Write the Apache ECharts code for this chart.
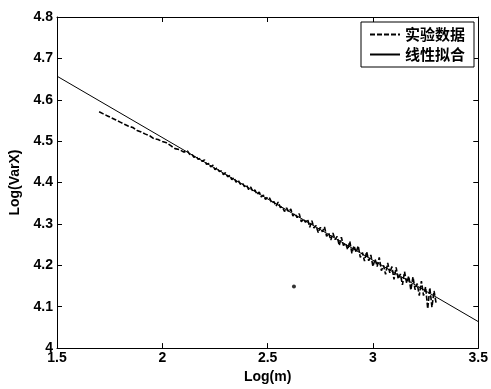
<!DOCTYPE html>
<html><head><meta charset="utf-8">
<script src="https://cdn.jsdelivr.net/npm/echarts@6/dist/echarts.min.js"></script>
<style>html,body{margin:0;padding:0;background:#fff}#c{width:491px;height:389px}</style>
</head><body><div id="c"></div>
<script>
const xTicks = [1.5, 2, 2.5, 3, 3.5];
const yTicks = [4, 4.1, 4.2, 4.3, 4.4, 4.5, 4.6, 4.7, 4.8];
const seriesNames = ['实验数据', '线性拟合'];
const expX = [
1.70,1.72,1.74,1.76,1.78,1.80,1.82,1.84,1.86,1.88,1.90,1.92,1.94,1.96,1.98,2.00,2.02,2.04,2.06,2.08,2.10,
2.11,2.12,2.13,2.14,2.15,2.16,2.17,2.18,2.19,2.20,2.21,2.22,2.23,2.24,2.25,2.26,2.27,2.28,2.29,2.30,
2.31,2.32,2.33,2.34,2.35,2.36,2.37,2.38,2.39,2.40,2.41,2.42,2.43,2.44,2.45,2.46,2.47,2.48,2.49,2.50,
2.51,2.52,2.53,2.54,2.55,2.56,2.57,2.58,2.59,2.60,2.61,2.62,2.63,2.64,2.65,2.66,2.67,2.68,2.69,2.70,
2.71,2.72,2.73,2.74,2.75,2.76,2.77,2.78,2.79,2.80,2.81,2.82,2.83,2.84,2.85,2.86,2.87,2.88,2.89,2.90,
2.91,2.92,2.93,2.94,2.95,2.96,2.97,2.98,2.99,3.00,3.01,3.02,3.03,3.04,3.05,3.06,3.07,3.08,3.09,3.10,
3.11,3.12,3.13,3.14,3.15,3.16,3.17,3.18,3.19,3.20,3.21,3.22,3.23,3.24,3.25,3.26,3.27,3.28,3.29,3.30
];
const expY = [
4.571,4.566,4.561,4.556,4.551,4.546,4.541,4.536,4.533,4.526,4.522,4.517,4.513,4.506,4.504,4.499,4.496,4.489,4.482,4.480,4.474,
4.474,4.476,4.468,4.469,4.461,4.464,4.456,4.458,4.451,4.455,4.444,4.446,4.438,4.442,4.431,4.436,4.427,4.428,4.419,4.424,
4.414,4.417,4.407,4.412,4.401,4.406,4.396,4.399,4.390,4.394,4.383,4.389,4.378,4.382,4.371,4.377,4.365,4.370,4.359,4.365,
4.362,4.350,4.354,4.343,4.353,4.340,4.341,4.330,4.339,4.329,4.336,4.319,4.325,4.315,4.325,4.305,4.312,4.304,4.311,4.292,
4.308,4.290,4.296,4.279,4.292,4.281,4.293,4.270,4.278,4.261,4.278,4.262,4.270,4.248,4.268,4.248,4.253,4.238,4.258,4.229,
4.247,4.231,4.247,4.219,4.231,4.210,4.233,4.211,4.225,4.197,4.215,4.197,4.219,4.187,4.200,4.178,4.206,4.182,4.197,4.166,
4.195,4.167,4.179,4.153,4.185,4.157,4.174,4.140,4.172,4.141,4.156,4.127,4.162,4.127,4.148,4.095,4.146,4.099,4.138,4.108
];
const outlierX = [2.625];
const outlierY = [4.149];
const fitX = [1.5, 3.5];
const fitY = [4.657, 4.064];

const zip = (a, b) => a.map((v, i) => [v, b[i]]);
const font = 'Liberation Sans, Arial, Noto Sans CJK SC, sans-serif';
const lblStyle = { color: '#000', fontSize: 14, fontWeight: 'bold', fontFamily: font };
const axLine = { show: true, lineStyle: { color: '#000', width: 1 } };

const chart = echarts.init(document.getElementById('c'), null, { renderer: 'canvas' });
chart.setOption({
  animation: false,
  backgroundColor: '#fff',
  textStyle: { fontFamily: font, color: '#000' },
  grid: { left: 57, right: 11, top: 17, bottom: 37, containLabel: false },
  legend: {
    data: seriesNames,
    orient: 'vertical',
    left: 361, top: 22,
    itemWidth: 30, itemHeight: 10, itemGap: 5,
    padding: [5, 9, 5, 8],
    backgroundColor: '#fff',
    borderColor: '#000', borderWidth: 1,
    itemStyle: { opacity: 0 },
    textStyle: { color: '#000', fontSize: 15, fontWeight: 'bold', fontFamily: 'Noto Sans CJK SC, sans-serif' }
  },
  xAxis: [{
    type: 'value', min: 1.5, max: 3.5, interval: 0.5,
    name: 'Log(m)', nameLocation: 'middle', nameGap: 21,
    nameTextStyle: lblStyle,
    axisLine: axLine,
    axisTick: { show: true, inside: true, length: 5, lineStyle: { color: '#000' }, customValues: xTicks },
    axisLabel: Object.assign({ margin: 3, customValues: xTicks, formatter: v => String(v) }, lblStyle),
    splitLine: { show: false }
  }, {
    type: 'value', position: 'top', min: 1.5, max: 3.5, interval: 0.5,
    axisLine: axLine,
    axisTick: { show: true, inside: true, length: 5, lineStyle: { color: '#000' } },
    axisLabel: { show: false }, splitLine: { show: false }
  }],
  yAxis: [{
    type: 'value', min: 4, max: 4.8, interval: 0.1,
    name: 'Log(VarX)', nameLocation: 'middle', nameGap: 30,
    nameTextStyle: lblStyle,
    axisLine: axLine,
    axisTick: { show: true, inside: true, length: 5, lineStyle: { color: '#000' }, customValues: yTicks },
    axisLabel: Object.assign({ margin: 4, customValues: yTicks, formatter: v => String(+v.toFixed(1)) }, lblStyle),
    splitLine: { show: false }
  }, {
    type: 'value', position: 'right', min: 4, max: 4.8, interval: 0.1,
    axisLine: axLine,
    axisTick: { show: true, inside: true, length: 5, lineStyle: { color: '#000' } },
    axisLabel: { show: false }, splitLine: { show: false }
  }],
  series: [{
    name: seriesNames[0], type: 'line', showSymbol: false, symbol: 'none',
    data: zip(expX, expY),
    lineStyle: { color: '#000', width: 1.6, type: [5, 2] },
    itemStyle: { color: '#000' }
  }, {
    name: seriesNames[1], type: 'line', showSymbol: false, symbol: 'none',
    data: zip(fitX, fitY),
    lineStyle: { color: '#000', width: 1, type: 'solid' },
    itemStyle: { color: '#000' }
  }, {
    name: 'outlier', type: 'scatter', symbol: 'circle', symbolSize: 4,
    data: zip(outlierX, outlierY),
    itemStyle: { color: '#000' }
  }]
});
</script>
</body></html>
